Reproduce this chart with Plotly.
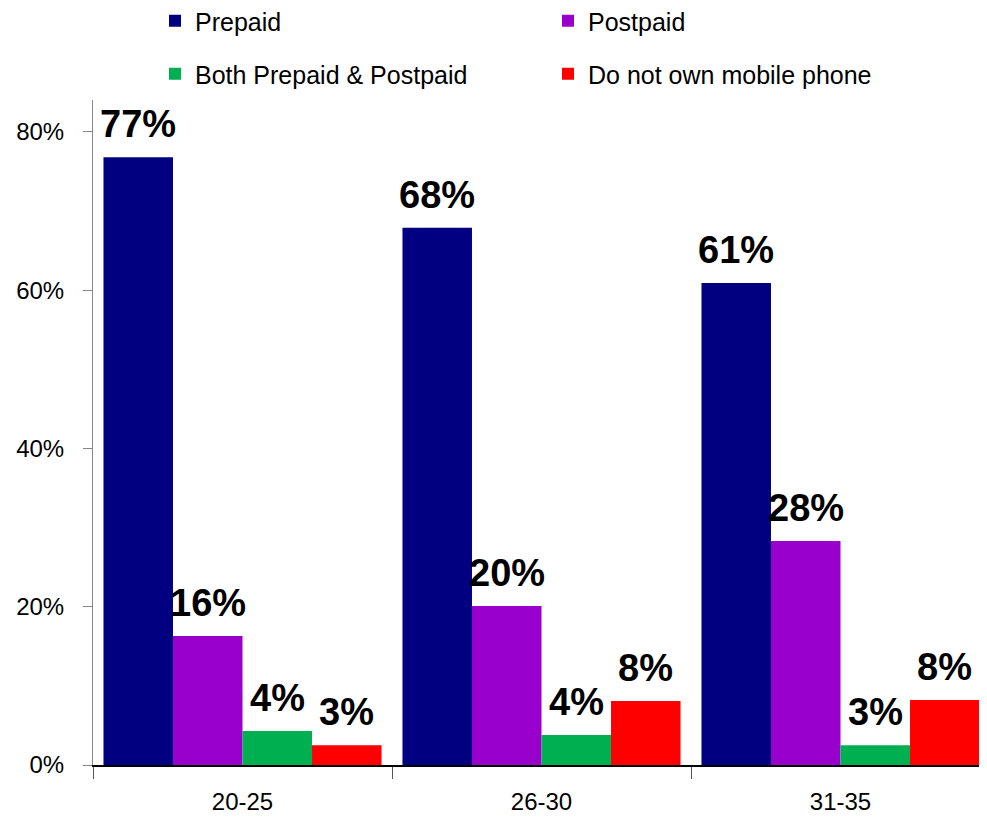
import plotly.graph_objects as go

categories = ["20-25", "26-30", "31-35"]
prepaid = [76.8, 67.9, 60.9]
postpaid = [16.3, 20.1, 28.3]
both = [4.3, 3.8, 2.5]
no_phone = [2.5, 8.1, 8.2]
prepaid_labels = ["77%", "68%", "61%"]
postpaid_labels = ["16%", "20%", "28%"]
both_labels = ["4%", "4%", "3%"]
no_phone_labels = ["3%", "8%", "8%"]
series_names = ["Prepaid", "Postpaid", "Both Prepaid & Postpaid", "Do not own mobile phone"]
colors = ["#000080", "#9900CC", "#00B050", "#FF0000"]
y_ticks = [0, 20, 40, 60, 80]
y_tick_labels = ["0%", "20%", "40%", "60%", "80%"]

FONT = "Liberation Sans Narrow, Arial Narrow, Liberation Sans, Arial"

W, H = 987, 827
ML, MR, MT, MB = 85, 5, 92, 70
BARGAP = 0.07

fig = go.Figure()
all_series = [prepaid, postpaid, both, no_phone]
all_labels = [prepaid_labels, postpaid_labels, both_labels, no_phone_labels]
legend_ids = ["legend", "legend2", "legend3", "legend4"]
n_series = len(all_series)
cat_px = (W - ML - MR) / len(categories)
bar_px = cat_px * (1 - BARGAP) / n_series

for i, (name, vals, labs, col, lg) in enumerate(zip(series_names, all_series, all_labels, colors, legend_ids)):
    fig.add_trace(go.Bar(
        x=categories, y=vals, name=name,
        marker=dict(color=col, line=dict(width=0)),
        legend=lg,
    ))
    for c, v, t in zip(categories, vals, labs):
        fig.add_annotation(
            x=c, y=v, xref="x", yref="y", text=t, showarrow=False,
            xanchor="center", yanchor="bottom",
            xshift=(i - (n_series - 1) / 2) * bar_px, yshift=10,
            font=dict(family=FONT, size=38, color="black", weight="bold"),
        )

def leg(x, y):
    return dict(orientation="h", x=x, y=y, xref="container", yref="container",
                xanchor="left", yanchor="middle",
                font=dict(family=FONT, size=25, color="black"),
                bgcolor="rgba(0,0,0,0)", borderwidth=0)

fig.update_layout(
    width=W, height=H,
    margin=dict(l=ML, r=MR, t=MT, b=MB, autoexpand=False),
    paper_bgcolor="white", plot_bgcolor="white",
    barmode="group", bargap=BARGAP, bargroupgap=0,
    font=dict(family=FONT, size=24, color="black"),
    showlegend=True,
    legend=leg(147 / W, 1 - 13 / H),
    legend2=leg(540 / W, 1 - 13 / H),
    legend3=leg(147 / W, 1 - 66 / H),
    legend4=leg(540 / W, 1 - 66 / H),
)
fig.update_yaxes(range=[0, 84.04], tickvals=y_ticks, ticktext=y_tick_labels,
                 showgrid=False, zeroline=False, showline=True, linecolor="#888888",
                 linewidth=1, ticks="outside", ticklen=9, tickcolor="#888888",
                 tickfont=dict(family=FONT, size=24), ticklabelstandoff=14)
fig.update_xaxes(showgrid=False, showline=True, linecolor="black", linewidth=2,
                 ticks="outside", tickson="boundaries", ticklen=12, tickcolor="#555555",
                 tickfont=dict(family=FONT, size=24), ticklabelstandoff=14)

fig.write_html("out.html")
